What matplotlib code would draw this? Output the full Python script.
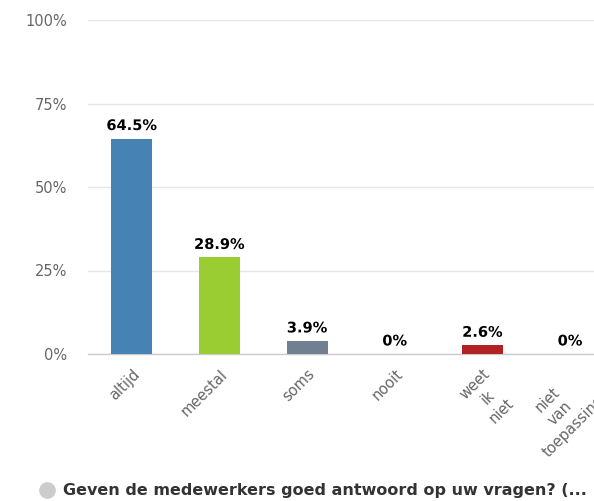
import matplotlib
matplotlib.use("Agg")
import matplotlib.pyplot as plt
import matplotlib.patheffects as pe
from matplotlib.lines import Line2D

categories = ["altijd", "meestal", "soms", "nooit", "weet\nik\nniet", "niet\nvan\ntoepassing"]
values = [64.5, 28.9, 3.9, 0.0, 2.6, 0.0]
labels = ["64.5%", "28.9%", "3.9%", "0%", "2.6%", "0%"]
colors = ["#4682B4", "#9ACD32", "#708090", "#FFFFFF", "#B22222", "#FFFFFF"]
yticks = [0, 25, 50, 75, 100]
ytick_labels = ["0%", "25%", "50%", "75%", "100%"]
legend_label = "Geven de medewerkers goed antwoord op uw vragen? (..."

W, H = 594, 501
fig = plt.figure(figsize=(W / 100, H / 100), dpi=100)
left = 88 / W
right_px = 614
bottom = (H - 354) / H
top = (H - 20) / H
ax = fig.add_axes([left, bottom, (right_px - 88) / W, top - bottom])

x = list(range(len(categories)))
ax.bar(x, values, width=0.47, color=colors, zorder=3)
ax.set_xlim(-0.5, len(categories) - 0.5)
ax.set_ylim(0, 100)

for xi, v, lab in zip(x, values, labels):
    t = ax.annotate(lab, (xi, v), xytext=(0, 4), textcoords="offset points",
                    ha="center", va="bottom", fontsize=10.5, fontweight="bold",
                    color="#000000", zorder=5)
    t.set_path_effects([pe.withStroke(linewidth=2, foreground="white")])

ax.set_yticks(yticks)
ax.set_yticklabels(ytick_labels, color="#666666", fontsize=10.5)
ax.tick_params(axis="y", length=0, pad=15)
ax.yaxis.grid(True, color="#e6e6e6", linewidth=1, zorder=0)
ax.set_axisbelow(True)

ax.set_xticks(x)
ax.set_xticklabels(categories, rotation=45, ha="right", va="top",
                   rotation_mode="anchor", color="#666666", fontsize=10.5,
                   multialignment="center", linespacing=1.3)
ax.tick_params(axis="x", length=0, pad=9)

for s in ["top", "right", "left"]:
    ax.spines[s].set_visible(False)
ax.spines["bottom"].set_color("#cccccc")
ax.spines["bottom"].set_linewidth(1)

fig.add_artist(Line2D([47 / W], [(H - 490) / H], marker="o", markersize=11,
                      color="#cccccc", linestyle="none", transform=fig.transFigure))
fig.text(63 / W, (H - 490) / H, legend_label, fontsize=11.5, fontweight="bold",
         color="#333333", va="center", ha="left")

fig.savefig("out.png", dpi=100, facecolor="white")
